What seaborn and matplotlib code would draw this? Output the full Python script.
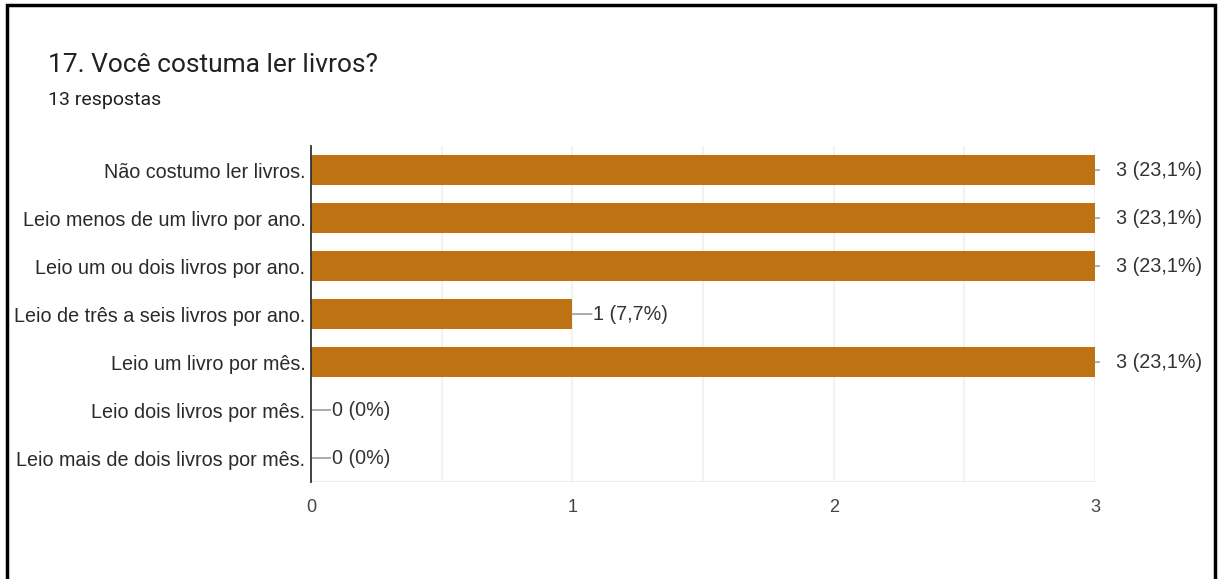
import matplotlib
matplotlib.use("Agg")
import matplotlib.pyplot as plt
import seaborn as sns
import pandas as pd
from matplotlib.patches import Rectangle

categories = [
    "Não costumo ler livros.",
    "Leio menos de um livro por ano.",
    "Leio um ou dois livros por ano.",
    "Leio de três a seis livros por ano.",
    "Leio um livro por mês.",
    "Leio dois livros por mês.",
    "Leio mais de dois livros por mês.",
]
counts = [3, 3, 3, 1, 3, 0, 0]
percent_labels = ["23,1%", "23,1%", "23,1%", "7,7%", "23,1%", "0%", "0%"]
x_ticks = [0, 1, 2, 3]

title = "17. Você costuma ler livros?"
subtitle = "13 respostas"
bar_color = "#bd7213"

sns.set_theme(style="white")
plt.rcParams["font.family"] = ["Liberation Sans", "DejaVu Sans"]

df = pd.DataFrame({"cat": categories, "n": counts})

fig = plt.figure(figsize=(12.19, 5.79), dpi=100)
ax = fig.add_axes([0.2551, 0.1675, 0.6432, 0.5803])

sns.barplot(data=df, y="cat", x="n", orient="h", color=bar_color,
            saturation=1, width=0.62, ax=ax, zorder=3, linewidth=0)

ax.set_xlim(0, 3)
ax.set_ylim(len(categories) - 0.5, -0.5)
ax.set_xticks(x_ticks)
ax.set_xticklabels([str(t) for t in x_ticks], color="#444444", fontsize=13)
ax.tick_params(axis="x", length=0, pad=12)
ax.tick_params(axis="y", length=0, pad=4, labelsize=14.2, labelcolor="#2a2a2a")
ax.set_xlabel("")
ax.set_ylabel("")

for xv in [0.5, 1, 1.5, 2, 2.5, 3]:
    ax.axvline(xv, color="#f0f0f0", lw=1.2, zorder=1)
ax.axhline(len(categories) - 0.5, color="#ececec", lw=1.5, zorder=1)

for s in ["top", "right", "bottom"]:
    ax.spines[s].set_visible(False)
ax.spines["left"].set_color("#333333")
ax.spines["left"].set_linewidth(1.3)
ax.spines["left"].set_zorder(5)

vmax = max(counts)
for i, (v, p) in enumerate(zip(counts, percent_labels)):
    line_len = 3 if v == vmax else 14
    text_off = 15
    ax.annotate("", xy=(v, i), xytext=(line_len, 0), textcoords="offset points",
                arrowprops=dict(arrowstyle="-", color="#9e9e9e", lw=1.2,
                                shrinkA=0, shrinkB=0), zorder=4, annotation_clip=False)
    ax.annotate(f"{v} ({p})", xy=(v, i), xytext=(text_off, 0), textcoords="offset points",
                va="center", ha="left", fontsize=14.2, color="#333333", annotation_clip=False)

fig.text(48 / 1219, 1 - 65 / 579, title, fontsize=19, color="#212121", va="center", ha="left",
         family=["Roboto", "DejaVu Sans"])
fig.text(48 / 1219, 1 - 100 / 579, subtitle, fontsize=14, color="#212121", va="center", ha="left",
         family=["Roboto", "DejaVu Sans"])

# outer black frame (screenshot border)
fig.patches.append(Rectangle((7 / 1219, -0.01), (1215 - 7) / 1219, 1 - 5 / 579 + 0.01,
                             transform=fig.transFigure, fill=False, edgecolor="black",
                             linewidth=2.5, zorder=10))

fig.savefig("out.png", dpi=100, facecolor="white")
